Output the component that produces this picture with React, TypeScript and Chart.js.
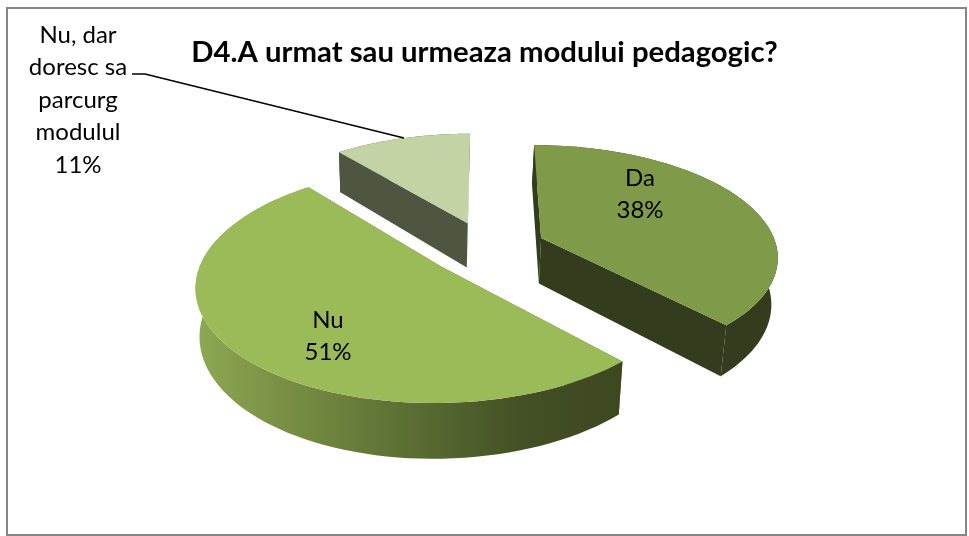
import React, { useEffect, useRef } from "react";
import { Chart, registerables } from "chart.js";

Chart.register(...registerables);

const categories = ["Da", "Nu", "Nu, dar doresc sa parcurg modulul"];
const values = [38, 51, 11];
const titleText = "D4.A urmat sau urmeaza modului pedagogic?";
const faceColors = ["#7F9A48", "#9BBB59", "#C3D3A6"];
const wallColors = ["#333C1C", "#5F7335", "#4E5540"];
const nuWallStops: [number, string][] = [
  [0, "#8DA954"],
  [0.1, "#839C4B"],
  [0.46, "#5F7335"],
  [0.78, "#434F25"],
  [1, "#3D4821"],
];
const labelLines = [["Da", "38%"], ["Nu", "51%"], ["Nu, dar", "doresc sa", "parcurg", "modulul", "11%"]];

const FONT = "Lato, Carlito, Calibri, sans-serif";
const labelAnchors = [
  { x: 640, y: 178, step: 32 },
  { x: 328, y: 320, step: 32 },
  { x: 78, y: 35, step: 32.5 },
];
const leader = [[404, 138], [145, 74], [132, 74]];
const TILT = 0.465;
const PERSP = 0.15;
const DEPTH = 46;
const SHRINK = 0.018;
const SHRINK_BIAS = 70;
const SHIFT_X = 2.5;

const pie3d = {
  id: "pie3d",
  beforeDatasetsDraw(chart: any) {
    const ctx = chart.ctx as CanvasRenderingContext2D;
    const arcs = chart.getDatasetMeta(0).data as any[];
    const cx = arcs[0].x + SHIFT_X;
    const cy = arcs[0].y;
    const R = arcs[0].outerRadius;

    // frame
    ctx.strokeStyle = "#868686";
    ctx.lineWidth = 2;
    ctx.strokeRect(7, 8, chart.width - 10, chart.height - 9);

    const project = (X: number, Y: number, low: boolean) => {
      const s = 1 / (1 - (PERSP * Y) / R);
      let xx = X * s;
      if (low) xx -= SHRINK * (xx + SHRINK_BIAS);
      const yy = Y * TILT * s + (low ? DEPTH * s : 0);
      return [cx + xx, cy + yy];
    };

    const order = [2, 0, 1];
    order.forEach((i) => {
      const el = arcs[i];
      const mid = (el.startAngle + el.endAngle) / 2;
      const off = (el.options.offset || 0) / 2;
      const ox = Math.cos(mid) * off;
      const oy = Math.sin(mid) * off;
      const N = 80;
      const rim: [number, number][] = [];
      for (let k = 0; k <= N; k++) {
        const a = el.startAngle + ((el.endAngle - el.startAngle) * k) / N;
        rim.push([ox + R * Math.cos(a), oy + R * Math.sin(a)]);
      }
      const fillPath = (pts: number[][], fill: any) => {
        ctx.beginPath();
        pts.forEach((p, j) => (j ? ctx.lineTo(p[0], p[1]) : ctx.moveTo(p[0], p[1])));
        ctx.closePath();
        ctx.fillStyle = fill;
        ctx.fill();
      };
      let wall: any = wallColors[i];
      const flat = wallColors[i];
      const apexT = project(ox, oy, false);
      const apexB = project(ox, oy, true);
      [rim[0], rim[N]].forEach((p) => {
        fillPath([apexT, project(p[0], p[1], false), project(p[0], p[1], true), apexB], flat);
      });
      if (i === 1) {
        const g = ctx.createLinearGradient(196, 0, 620, 0);
        nuWallStops.forEach(([t, c]) => g.addColorStop(t, c));
        wall = g;
      }
      const outer = [
        ...rim.map((p) => project(p[0], p[1], false)),
        ...rim.slice().reverse().map((p) => project(p[0], p[1], true)),
      ];
      fillPath(outer, wall);
      fillPath([apexT, ...rim.map((p) => project(p[0], p[1], false))], el.options.backgroundColor);
    });

    ctx.beginPath();
    leader.forEach((p, j) => (j ? ctx.lineTo(p[0], p[1]) : ctx.moveTo(p[0], p[1])));
    ctx.strokeStyle = "#000000";
    ctx.lineWidth = 1.5;
    ctx.stroke();

    ctx.fillStyle = "#000000";
    ctx.font = `24px ${FONT}`;
    ctx.textAlign = "center";
    ctx.textBaseline = "middle";
    labelLines.forEach((lines, i) => {
      const a = labelAnchors[i];
      lines.forEach((t, j) => ctx.fillText(t, a.x, a.y + j * a.step));
    });
    return false;
  },
};

export default function App() {
  const ref = useRef<HTMLCanvasElement>(null);
  useEffect(() => {
    const chart = new Chart(ref.current as HTMLCanvasElement, {
      type: "pie",
      data: {
        labels: categories,
        datasets: [
          {
            data: values,
            backgroundColor: faceColors,
            borderWidth: 0,
            offset: 118,
            radius: 236,
          } as any,
        ],
      },
      options: {
        responsive: false,
        animation: false,
        events: [],
        layout: { padding: { bottom: 110 } },
        plugins: {
          legend: { display: false },
          tooltip: { enabled: false },
          title: {
            display: true,
            text: titleText,
            color: "#000000",
            font: { family: FONT, size: 29.3, weight: "bold" },
            padding: { top: 35, bottom: 0 },
          },
        },
      },
      plugins: [pie3d],
    } as any);
    return () => chart.destroy();
  }, []);
  return (
    <div style={{ position: "absolute", left: 0, top: 0, width: 969, height: 536, background: "#fff", overflow: "hidden" }}>
      <canvas ref={ref} width={969} height={536} style={{ position: "absolute", left: 0, top: 0 }} />
    </div>
  );
}
